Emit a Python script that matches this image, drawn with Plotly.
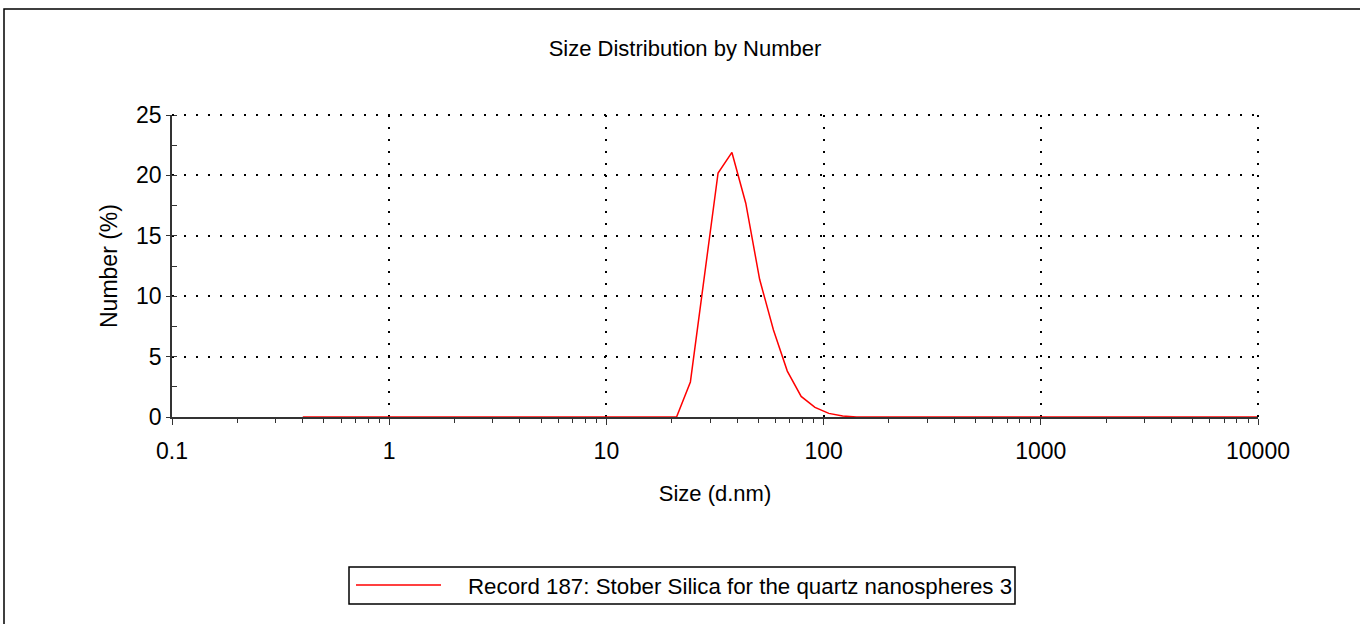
import plotly.graph_objects as go

# Size bins (d.nm) and number distribution (%)
sizes = [0.4, 0.4632, 0.5365, 0.6213, 0.7195, 0.8332, 0.9649, 1.117, 1.294, 1.499,
         1.736, 2.010, 2.328, 2.696, 3.122, 3.615, 4.187, 4.849, 5.615, 6.503,
         7.531, 8.721, 10.10, 11.70, 13.54, 15.69, 18.17, 21.04, 24.36, 28.21,
         32.67, 37.84, 43.82, 50.75, 58.77, 68.06, 78.82, 91.28, 105.7, 122.4,
         141.8, 164.2, 190.1, 220.2, 255.0, 295.3, 342.0, 396.1, 458.7, 531.2,
         615.1, 712.4, 825.0, 955.4, 1106, 1281, 1484, 1718, 1990, 2305,
         2669, 3091, 3580, 4145, 4801, 5560, 6439, 7456, 8635, 10000]
number_pct = [0, 0, 0, 0, 0, 0, 0, 0, 0, 0,
              0, 0, 0, 0, 0, 0, 0, 0, 0, 0,
              0, 0, 0, 0, 0, 0, 0, 0, 2.9, 11.5,
              20.2, 21.9, 17.7, 11.4, 7.2, 3.8, 1.7, 0.8, 0.3, 0.08,
              0, 0, 0, 0, 0, 0, 0, 0, 0, 0,
              0, 0, 0, 0, 0, 0, 0, 0, 0, 0,
              0, 0, 0, 0, 0, 0, 0, 0, 0, 0]
series_name = "Record 187: Stober Silica for the quartz nanospheres 3"

x_tickvals = [0.1, 1, 10, 100, 1000, 10000]
x_ticktext = ["0.1", "1", "10", "100", "1000", "10000"]
y_tickvals = [0, 5, 10, 15, 20, 25]
y_ticktext = ["0", "5", "10", "15", "20", "25"]
x_minor = [m * d for d in [0.1, 1, 10, 100, 1000] for m in range(2, 10)]

W, H = 1360, 624
L, R, T, B = 172, 102, 115, 207
PW, PH = W - L - R, H - T - B


def px(xp):
    return (xp - L) / PW


def py(yp):
    return (H - B - yp) / PH


FONT = "Liberation Sans, Arial, sans-serif"
DOT = "2px,10px"

fig = go.Figure()
fig.add_trace(go.Scatter(x=sizes, y=number_pct, mode="lines", name=series_name,
                         line=dict(color="#FF0000", width=1.5), showlegend=False))

grid = dict(showgrid=True, gridcolor="#000000", gridwidth=2, griddash=DOT)

fig.update_xaxes(type="log", range=[-1, 4], tickvals=x_tickvals, ticktext=x_ticktext,
                 showline=True, linecolor="#333333", linewidth=1.5, layer="below traces",
                 ticks="outside", ticklen=6, tickcolor="#333333", ticklabelstandoff=7,
                 minor=dict(tickvals=x_minor, ticks="outside", ticklen=4, tickcolor="#333333",
                            showgrid=False),
                 tickfont=dict(family=FONT, size=23, color="#000000"),
                 title=dict(text="Size (d.nm)", font=dict(family=FONT, size=22, color="#000000"),
                            standoff=22),
                 zeroline=False, **grid)
fig.update_yaxes(range=[0, 25], tickvals=y_tickvals, ticktext=y_ticktext,
                 showline=True, linecolor="#333333", linewidth=1.5, layer="below traces",
                 ticks="outside", ticklen=4, tickcolor="#333333",
                 minor=dict(dtick=2.5, ticks="inside", ticklen=5, tickcolor="#333333",
                            showgrid=False),
                 tickfont=dict(family=FONT, size=23, color="#000000"),
                 title=dict(text="Number (%)", font=dict(family=FONT, size=23, color="#000000"),
                            standoff=12),
                 zeroline=False, **grid)

shapes = [
    # outer frame
    dict(type="rect", xref="paper", yref="paper", x0=px(4), x1=px(1400), y0=py(9), y1=py(700),
         line=dict(color="#000000", width=1.5), fillcolor="rgba(0,0,0,0)", layer="below"),
    # dotted grid lines at the range edges (top and right)
    dict(type="line", xref="paper", yref="paper", x0=0, x1=1, y0=1, y1=1,
         line=dict(color="#000000", width=2, dash=DOT)),
    dict(type="line", xref="paper", yref="paper", x0=1, x1=1, y0=0, y1=1,
         line=dict(color="#000000", width=2, dash=DOT)),
    # legend box
    dict(type="rect", xref="paper", yref="paper", x0=px(349), x1=px(1015), y0=py(567), y1=py(604),
         line=dict(color="#000000", width=1.5), fillcolor="#FFFFFF"),
    dict(type="line", xref="paper", yref="paper", x0=px(356), x1=px(441), y0=py(585), y1=py(585),
         line=dict(color="#FF0000", width=1.5)),
]

annotations = [
    dict(text=series_name, xref="paper", yref="paper", x=px(466), y=py(586),
         xanchor="left", yanchor="middle", showarrow=False,
         font=dict(family=FONT, size=22.3, color="#000000")),
]

fig.update_layout(
    width=W, height=H,
    margin=dict(l=L, r=R, t=T, b=B),
    paper_bgcolor="#FFFFFF", plot_bgcolor="#FFFFFF",
    title=dict(text="Size Distribution by Number", x=685 / W, xanchor="center",
               y=1 - 48 / H, yanchor="middle", xref="container", yref="container",
               font=dict(family=FONT, size=22, color="#000000")),
    shapes=shapes, annotations=annotations, showlegend=False,
)

fig.write_html("out.html")
